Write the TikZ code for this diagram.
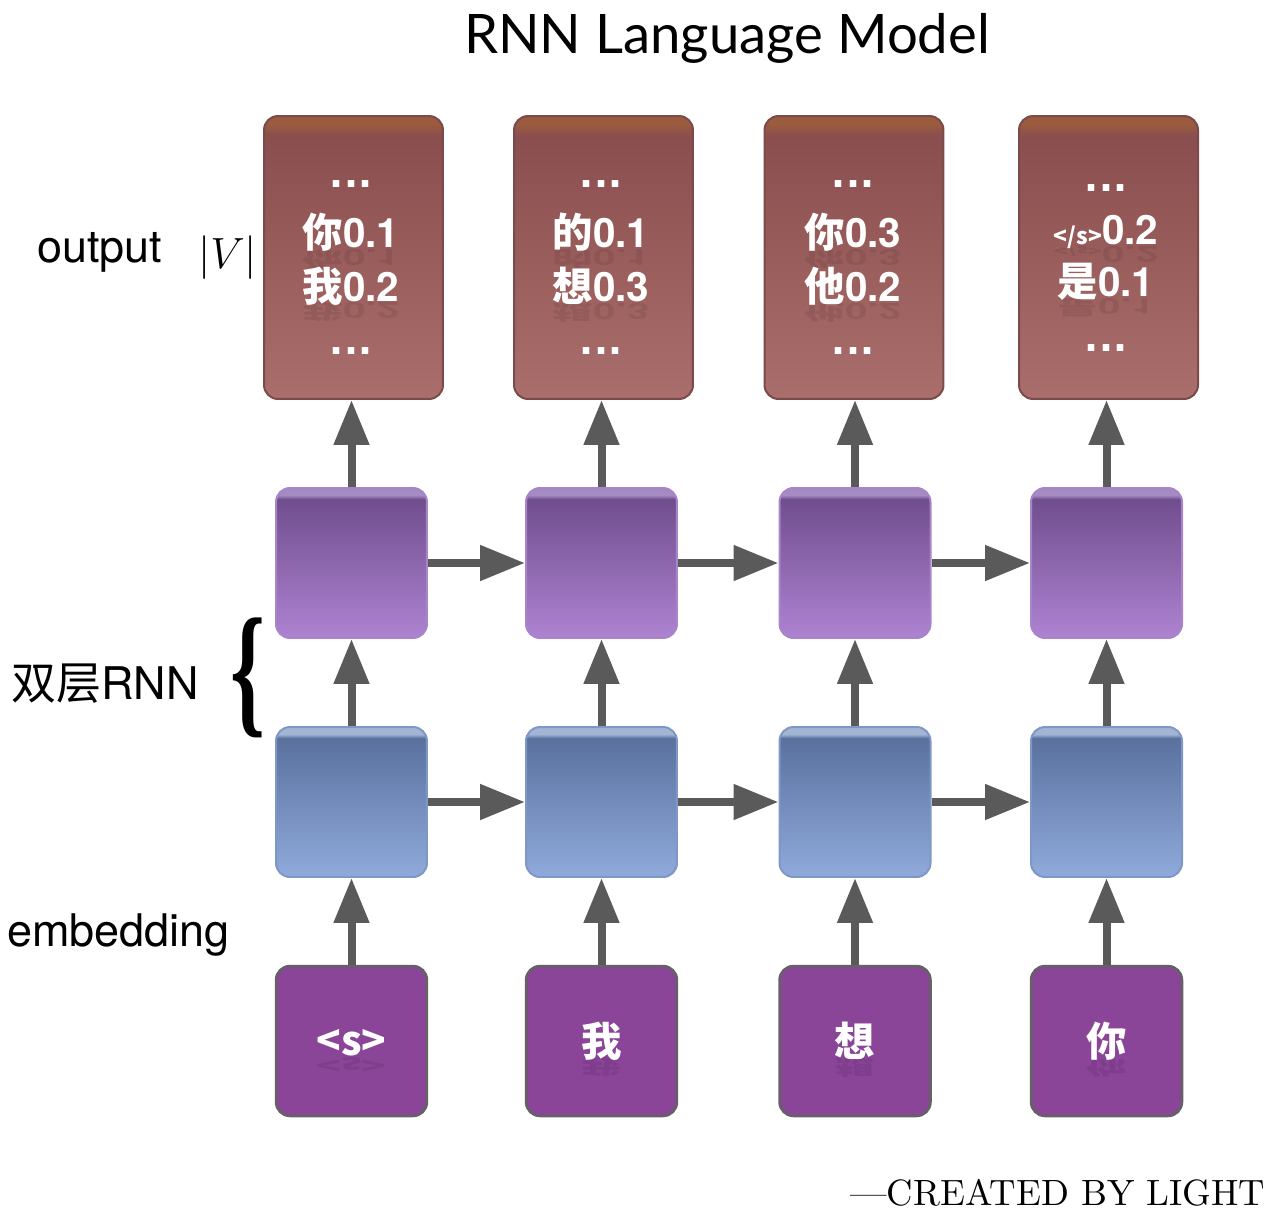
\documentclass[tikz,border=0pt]{standalone}
\usepackage{fontspec}
\usepackage{graphicx}
\usetikzlibrary{arrows.meta,shadings}
\newfontfamily\hv{TeX Gyre Heros}
\newfontfamily\cjk{Noto Sans CJK SC}
\newfontfamily\ttl{Lato}
\newfontfamily\lser{Liberation Serif}
\newfontfamily\dvs{DejaVu Sans}
\definecolor{outHi}{HTML}{9A5B3F}
\definecolor{outT}{HTML}{8A4E4E}
\definecolor{outB}{HTML}{AA6E6C}
\definecolor{outE}{HTML}{7B4A4A}
\definecolor{hidHi}{HTML}{A48BC2}
\definecolor{hidT}{HTML}{704E8E}
\definecolor{hidB}{HTML}{AE83D2}
\definecolor{hidE}{HTML}{A884C8}
\definecolor{embHi}{HTML}{A3B5D5}
\definecolor{embT}{HTML}{5A719E}
\definecolor{embB}{HTML}{8FAADB}
\definecolor{embE}{HTML}{7F97C6}
\definecolor{inF}{HTML}{8A4498}
\definecolor{inE}{HTML}{636363}
\definecolor{arrC}{HTML}{5A5A5A}
\pgfdeclareverticalshading{outsh}{100bp}{color(0bp)=(outB); color(25bp)=(outB); color(71.5bp)=(outT); color(73.5bp)=(outHi); color(100bp)=(outHi)}
\pgfdeclareverticalshading{hidsh}{100bp}{color(0bp)=(hidB); color(25bp)=(hidB); color(71.3bp)=(hidT); color(72.6bp)=(hidHi); color(100bp)=(hidHi)}
\pgfdeclareverticalshading{embsh}{100bp}{color(0bp)=(embB); color(25bp)=(embB); color(71.3bp)=(embT); color(72.6bp)=(embHi); color(100bp)=(embHi)}
\pgfdeclarelayer{bg}
\pgfdeclarelayer{refl}
\pgfsetlayers{bg,refl,main}
\newcommand\btext[3]{%
  \node[btxt] (#1) at (#2) {#3};
  \begin{pgfonlayer}{refl}
    \node[btxt, text=black, text opacity=0.08, anchor=base] (#1r) at ([yshift=-1pt]#1.base) {\scalebox{1}[-0.55]{#3}};
  \end{pgfonlayer}}
\begin{document}
\begin{tikzpicture}[x=0.02cm,y=-0.02cm,
  box/.style={rounded corners=0.28cm, line width=0.04cm, inner sep=0pt},
  outbox/.style={box, minimum width=3.58cm, minimum height=5.66cm, shading=outsh, draw=outE},
  hidbox/.style={box, minimum width=3.02cm, minimum height=3.0cm, shading=hidsh, draw=hidE},
  embbox/.style={box, minimum width=3.02cm, minimum height=3.0cm, shading=embsh, draw=embE},
  inbox/.style={box, minimum width=3.02cm, minimum height=3.0cm, fill=inF, draw=inE, line width=0.05cm},
  arr/.style={draw=arrC, line width=0.16cm, -{Triangle[length=0.9cm,width=0.68cm]}},
  btxt/.style={text=white, inner sep=0pt, font=\hv\bfseries\fontsize{23}{26}\selectfont},
  dots/.style={text=white, inner sep=0pt, font=\dvs\bfseries\fontsize{21}{24}\selectfont},
  lbl/.style={inner sep=0pt, font=\hv\fontsize{25.6}{30}\selectfont}
]
\useasboundingbox (0,0) rectangle (1287,1227);

% title
\node[inner sep=0pt, font=\ttl\fontsize{31}{36}\selectfont] (title) at (727,38) {RNN Language Model};

\begin{pgfonlayer}{bg}
% output boxes
\node[outbox] (o1) at (353.5,257.5) {};
\node[outbox] (o2) at (603.5,257.5) {};
\node[outbox] (o3) at (854,257.5) {};
\node[outbox] (o4) at (1108.5,257.5) {};
% hidden boxes
\node[hidbox] (h1) at (351.5,563) {};
\node[hidbox] (h2) at (601.5,563) {};
\node[hidbox] (h3) at (855,563) {};
\node[hidbox] (h4) at (1106.5,563) {};
% embedding boxes
\node[embbox] (e1) at (351.5,802) {};
\node[embbox] (e2) at (601.5,802) {};
\node[embbox] (e3) at (855,802) {};
\node[embbox] (e4) at (1106.5,802) {};
% input boxes
\node[inbox] (i1) at (351.5,1041) {};
\node[inbox] (i2) at (601.5,1041) {};
\node[inbox] (i3) at (855,1041) {};
\node[inbox] (i4) at (1106.5,1041) {};
\end{pgfonlayer}

% output texts
\node[dots] (o1a) at (351,184) {...};
\btext{o1b}{351,232}{\cjk 你\hv 0.1}
\btext{o1c}{351,286}{\cjk 我\hv 0.2}
\node[dots] (o1d) at (351,351) {...};
\node[dots] (o2a) at (601,184) {...};
\btext{o2b}{601,232}{\cjk 的\hv 0.1}
\btext{o2c}{601,286}{\cjk 想\hv 0.3}
\node[dots] (o2d) at (601,351) {...};
\node[dots] (o3a) at (853,184) {...};
\btext{o3b}{853,232}{\cjk 你\hv 0.3}
\btext{o3c}{853,286}{\cjk 他\hv 0.2}
\node[dots] (o3d) at (853,351) {...};
\node[dots] (o4a) at (1106,188) {...};
\btext{o4b}{1106,232}{{\cjk\fontsize{13}{14}\selectfont </s>}0.2}
\btext{o4c}{1106,282}{\cjk 是\hv 0.1}
\node[dots] (o4d) at (1106,348) {...};

% input texts
\btext{i1t}{351.5,1043}{\cjk <s>}
\btext{i2t}{601.5,1041}{\cjk 我}
\btext{i3t}{855,1041}{\cjk 想}
\btext{i4t}{1106.5,1041}{\cjk 你}

% arrows
\foreach \k in {1,2,3,4}{
  \draw[arr] (i\k) -- (e\k);
  \draw[arr] (e\k) -- (h\k);
  \draw[arr] (h\k.north) -- (h\k |- o\k.south);
}
\foreach \a/\b in {1/2,2/3,3/4}{
  \draw[arr] (h\a) -- (h\b);
  \draw[arr] (e\a) -- (e\b);
}

% left labels
\node[lbl, anchor=base west] (lout) at (37,262) {output};
\node[inner sep=0pt, anchor=base west, font=\fontsize{25.6}{30}\selectfont] (lV) at (198,268) {$|V|$};
\node[lbl, anchor=base west] (lrnn) at (11,699) {{\cjk 双层}RNN};
\node[lbl, anchor=base west] (lemb) at (7,946) {embedding};
\node[inner sep=0pt] (brace) at (248,678) {\resizebox*{0.7cm}{2.4cm}{\lser\bfseries\{}};

% signature
\node[inner sep=0pt, anchor=base west] (sig) at (850,1205) {\resizebox{8.3cm}{!}{---CREATED BY LIGHT}};
\end{tikzpicture}
\end{document}
